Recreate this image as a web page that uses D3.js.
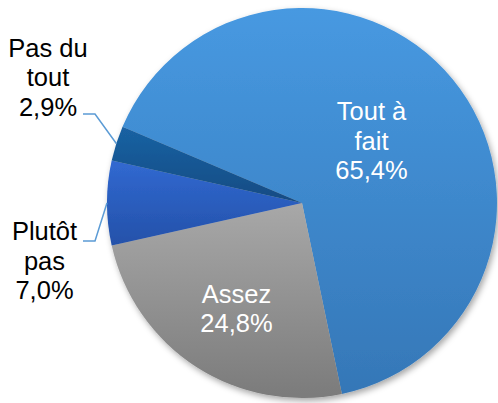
<!DOCTYPE html>
<html>
<head>
<meta charset="utf-8">
<script src="https://cdn.jsdelivr.net/npm/d3@7"></script>
<style>
  html, body { margin: 0; padding: 0; background: #fff; }
  svg { display: block; }
</style>
</head>
<body>
<div id="chart"></div>
<script>
// data
var categories = ["Tout à fait", "Assez", "Plutôt pas", "Pas du tout"];
var values = [65.4, 24.8, 7.0, 2.9];
var valueLabels = ["65,4%", "24,8%", "7,0%", "2,9%"];
// label text split into lines, like the original
var labelLines = [["Tout à", "fait"], ["Assez"], ["Plutôt", "pas"], ["Pas du", "tout"]];

// top / bottom colours of each slice gradient
var colorsTop = ["#4799e1", "#a8a8a8", "#3169d1", "#1a62a3"];
var colorsBottom = ["#3577b7", "#7b7b7b", "#2451a9", "#134b83"];

var width = 498, height = 403;
var cx = 302, cy = 203, radius = 195;
var startDeg = -67;

// where the label blocks go (first baseline, centre x), and which ones get a leader
var labelLayout = [
  { x: 371.5, y: 120, inside: true },
  { x: 236.5, y: 302.5, inside: true },
  { x: 44.5, y: 240, inside: false, lineY: 241 },
  { x: 48, y: 56.5, inside: false, lineY: 114 }
];
var lineStep = 29.5;

var svg = d3.select("#chart").append("svg")
  .attr("width", width)
  .attr("height", height);

var defs = svg.append("defs");

var shadow = defs.append("filter")
  .attr("id", "shadow")
  .attr("x", "-10%").attr("y", "-10%")
  .attr("width", "120%").attr("height", "120%");
shadow.append("feDropShadow")
  .attr("dx", 2).attr("dy", 3)
  .attr("stdDeviation", 3)
  .attr("flood-color", "#000")
  .attr("flood-opacity", 0.35);

categories.forEach(function(c, i) {
  var g = defs.append("linearGradient")
    .attr("id", "grad" + i)
    .attr("x1", 0).attr("y1", 0).attr("x2", 0).attr("y2", 1);
  g.append("stop").attr("offset", "0%").attr("stop-color", colorsTop[i]);
  g.append("stop").attr("offset", "100%").attr("stop-color", colorsBottom[i]);
});

var pie = d3.pie()
  .sort(null)
  .value(function(d) { return d; })
  .startAngle(startDeg * Math.PI / 180)
  .endAngle(startDeg * Math.PI / 180 + 2 * Math.PI);

var arcs = pie(values);

var arc = d3.arc()
  .innerRadius(0)
  .outerRadius(radius);

var pieGroup = svg.append("g")
  .attr("transform", "translate(" + cx + "," + cy + ")")
  .attr("filter", "url(#shadow)");

pieGroup.selectAll("path")
  .data(arcs)
  .enter()
  .append("path")
    .attr("d", arc)
    .attr("fill", function(d, i) { return "url(#grad" + i + ")"; });

// leader lines for the small slices
var edgeArc = d3.arc().innerRadius(radius).outerRadius(radius);

arcs.forEach(function(d, i) {
  var lay = labelLayout[i];
  if (lay.inside) return;
  var mid = (d.startAngle + d.endAngle) / 2;
  var ex = cx + radius * Math.sin(mid);
  var ey = cy - radius * Math.cos(mid);
  svg.append("path")
    .attr("d", d3.line()([[83, lay.lineY], [95, lay.lineY], [ex, ey]]))
    .attr("fill", "none")
    .attr("stroke", "#5b9bd5")
    .attr("stroke-width", 1.5);
});

// labels
categories.forEach(function(c, i) {
  var lay = labelLayout[i];
  var lines = labelLines[i].concat([valueLabels[i]]);
  var t = svg.append("text")
    .attr("text-anchor", "middle")
    .style("font-family", "'Liberation Sans', Arial, sans-serif")
    .style("font-size", "25.5px")
    .attr("fill", lay.inside ? "#ffffff" : "#000000");
  lines.forEach(function(line, j) {
    t.append("tspan")
      .attr("x", lay.x)
      .attr("y", lay.y + j * lineStep)
      .text(line);
  });
});
</script>
</body>
</html>
